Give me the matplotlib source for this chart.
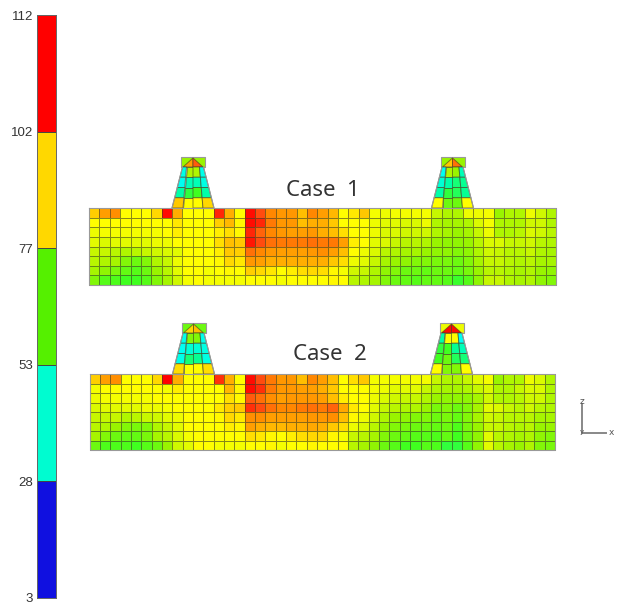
import matplotlib
matplotlib.use("Agg")
import matplotlib.pyplot as plt
import numpy as np
from matplotlib.colors import LinearSegmentedColormap
from matplotlib.patches import Polygon

# scale
levels = [3, 28, 53, 77, 102, 112]
band_colors = ["#1010e0", "#00fcd0", "#55f000", "#ffd800", "#ff0000"]

# one row per element layer, top to bottom
case1 = [
    [86,92,94,80,80,80,85,105,90,80,80,80,103,90,80,105,100,95,93,93,88,95,92,89,80,83,87,79,78,79,79,79,79,74,72,72,78,78,79,70,72,72,78,75,72],
    [80,80,80,80,80,80,80,80,83,80,80,80,86,89,81,105,103,96,93,93,88,90,90,87,80,80,80,78,77,77,76,76,78,72,71,71,72,76,79,72,72,72,75,75,72],
    [78,79,79,79,79,79,79,80,82,80,80,80,82,84,81,103,98,95,93,92,92,93,90,88,84,80,80,78,76,76,75,75,75,72,71,70,71,74,78,72,72,73,76,75,73],
    [77,76,77,77,77,77,78,78,80,80,80,80,84,88,87,104,100,97,96,96,96,97,96,96,92,82,80,77,76,74,73,73,72,70,69,69,70,73,76,76,74,74,75,73,72],
    [74,74,73,72,73,74,75,76,77,80,80,80,82,87,86,97,95,93,92,92,92,93,94,92,88,80,78,76,73,72,71,71,70,69,69,68,69,72,75,74,73,73,74,72,71],
    [73,72,71,68,66,68,72,74,78,80,80,80,81,85,83,93,92,90,90,90,90,90,90,87,84,78,77,74,71,70,69,68,68,67,67,66,68,71,74,74,73,72,73,71,71],
    [71,69,67,65,64,66,70,73,77,80,80,79,80,81,80,86,85,83,80,82,84,85,84,81,79,75,74,72,69,68,66,66,65,66,66,65,67,70,73,73,72,71,72,70,69],
    [68,64,63,62,62,64,68,71,75,79,80,79,79,79,79,80,80,80,79,80,80,80,80,81,80,73,72,71,68,66,65,64,65,65,64,61,64,69,74,74,72,71,72,69,68],
]
case2 = [
    [86,92,94,80,80,80,85,106,90,80,80,80,102,90,80,105,100,96,93,93,88,95,92,88,80,84,87,79,79,79,79,79,79,74,72,72,74,77,79,70,72,72,78,76,72],
    [79,80,80,80,80,80,80,79,82,80,80,80,80,89,81,105,102,96,93,93,92,92,90,87,80,80,80,79,78,77,77,77,74,72,71,71,72,74,76,72,72,74,76,76,72],
    [78,79,79,79,79,79,80,80,80,80,80,80,80,84,81,99,97,94,92,93,93,93,92,88,82,80,80,78,76,75,74,74,72,70,69,69,69,71,75,72,72,73,75,75,72],
    [76,77,77,77,77,78,78,79,80,80,80,80,83,86,87,102,100,97,95,95,96,97,96,98,91,83,80,77,74,73,72,72,70,67,68,66,68,71,77,76,74,73,75,73,72],
    [74,74,74,72,73,74,75,77,78,80,80,80,81,85,83,94,94,92,92,92,92,93,93,94,88,81,78,75,72,70,69,68,68,66,67,65,68,71,75,74,73,73,73,71,71],
    [73,72,70,68,67,68,72,74,77,80,80,80,80,82,81,92,90,89,89,90,90,91,90,87,84,78,76,73,70,68,67,66,66,65,66,63,67,70,74,74,73,72,73,70,70],
    [71,68,66,65,65,67,71,73,76,79,80,80,80,80,80,84,83,81,80,82,84,85,85,81,79,74,73,71,68,66,65,64,64,63,65,62,66,69,77,73,72,71,72,69,68],
    [66,63,63,63,62,64,66,70,75,77,80,80,79,79,79,80,80,81,79,80,80,81,80,80,80,73,71,69,66,64,62,62,64,63,60,60,64,69,77,73,71,70,72,68,67],
]

# tower elements: cap corners, cap triangle halves, then 4 rows of 4 elements
tower1_left = ([70, 72], [92, 99], [[43, 72, 72, 43], [42, 50, 50, 44], [52, 60, 62, 52], [87, 80, 80, 85]])
tower1_right = ([70, 72], [87, 97], [[42, 72, 70, 50], [46, 52, 56, 54], [52, 60, 58, 54], [80, 66, 66, 80]])
tower2_left = ([66, 66], [85, 88], [[43, 68, 68, 43], [42, 46, 46, 44], [43, 56, 54, 44], [84, 80, 80, 84]])
tower2_right = ([78, 78], [105, 105], [[52, 80, 80, 42], [60, 62, 54, 50], [62, 66, 58, 56], [80, 68, 68, 80]])

cmap_values = [3, 28, 40, 53, 62, 70, 75, 80, 85, 90, 95, 100, 106]
cmap_colors = ["#1010e0", "#0040ff", "#00ffff", "#00ffa0", "#40ff20", "#98f400", "#d0f800", "#ffff00",
               "#ffd800", "#ffb000", "#ff8800", "#ff5010", "#ff0000"]
lo, hi = cmap_values[0], cmap_values[-1]
cmap = LinearSegmentedColormap.from_list("fea", [((v - lo) / (hi - lo), c) for v, c in zip(cmap_values, cmap_colors)])
grid_color = (0.25, 0.25, 0.15, 0.62)
outline = "#999999"


def fill(ax, v, pts):
    ax.add_patch(Polygon(pts, closed=True, facecolor=cmap((v - lo) / (hi - lo)), edgecolor=grid_color, linewidth=0.7))


def draw_tower(ax, cx, top, base_y, values):
    cap, tri, rows = values
    hw_top, hw_base = 10.5, 21
    ys = np.linspace(top + 10, base_y, 5)
    # cap
    ax.add_patch(Polygon([(cx - 12, top), (cx + 12, top), (cx + 12, top + 10), (cx - 12, top + 10)], closed=True,
                         facecolor=cmap((cap[0] - lo) / (hi - lo)), edgecolor=outline, linewidth=0.8))
    fill(ax, tri[0], [(cx, top + 1), (cx - 10, top + 10), (cx, top + 10)])
    fill(ax, tri[1], [(cx, top + 1), (cx + 10, top + 10), (cx, top + 10)])
    # columns converge upward
    for i, row in enumerate(rows):
        for j, v in enumerate(row):
            t0 = i / 4
            t1 = (i + 1) / 4
            hw0 = hw_top + (hw_base - hw_top) * t0
            hw1 = hw_top + (hw_base - hw_top) * t1
            inner0 = 6.5 + (10 - 6.5) * t0
            inner1 = 6.5 + (10 - 6.5) * t1
            e0 = [-hw0, -inner0, 0, inner0, hw0]
            e1 = [-hw1, -inner1, 0, inner1, hw1]
            fill(ax, v, [(cx + e0[j], ys[i]), (cx + e0[j + 1], ys[i]), (cx + e1[j + 1], ys[i + 1]), (cx + e1[j], ys[i + 1])])
    ax.plot([cx - hw_top, cx - hw_base], [ys[0], ys[-1]], color=outline, lw=0.8)
    ax.plot([cx + hw_top, cx + hw_base], [ys[0], ys[-1]], color=outline, lw=0.8)


def draw_case(ax, values, x0, x1, y0, y1):
    vals = np.array(values)
    xe = np.linspace(x0, x1, vals.shape[1] + 1)
    ye = np.linspace(y0, y1, vals.shape[0] + 1)
    ax.pcolormesh(xe, ye, vals, cmap=cmap, vmin=lo, vmax=hi, edgecolors=[grid_color], linewidth=0.65)
    ax.plot([x0, x1, x1, x0, x0], [y0, y0, y1, y1, y0], color=outline, lw=0.8)


fig = plt.figure(figsize=(6.19, 6.06), dpi=100)
ax = fig.add_axes([0, 0, 1, 1])
ax.set_xlim(0, 619)
ax.set_ylim(606, 0)
ax.axis("off")

draw_case(ax, case1, 89, 556, 208, 285)
draw_case(ax, case2, 89.5, 555, 374, 450)
draw_tower(ax, 193, 157, 208, tower1_left)
draw_tower(ax, 452.5, 157, 208, tower1_right)
draw_tower(ax, 193.5, 323, 374, tower2_left)
draw_tower(ax, 451.5, 323, 374, tower2_right)

ax.text(323, 191, "Case  1", fontsize=16, family="Noto Sans", color="#333333", ha="center", va="center")
ax.text(329.5, 355, "Case  2", fontsize=16, family="Noto Sans", color="#333333", ha="center", va="center")

# little axis triad
ax.plot([582, 582], [404, 433], color="#888888", lw=1.4)
ax.plot([582, 606], [433, 433], color="#888888", lw=1.4)
ax.text(582, 402, "z", fontsize=6.5, color="#555555", ha="center", va="center")
ax.text(611, 432.5, "x", fontsize=6.5, color="#555555", ha="center", va="center")
ax.text(582, 432, "y", fontsize=5, color="#555555", ha="center", va="center")

# colour scale, bands evenly spaced
cax = fig.add_axes([37 / 619, 1 - 598 / 606, 19 / 619, (598 - 15) / 606])
band_edges = np.arange(len(levels))
for i, c in enumerate(band_colors):
    cax.axhspan(band_edges[i], band_edges[i + 1], color=c, lw=0)
cax.set_ylim(band_edges[0], band_edges[-1])
cax.set_xticks([])
cax.set_yticks(band_edges)
cax.set_yticklabels([str(v) for v in levels], fontsize=9.5, family="Liberation Sans", color="#333333")
cax.tick_params(axis="y", length=0, pad=3)
for s in cax.spines.values():
    s.set_color("#666666")
    s.set_linewidth(0.7)
for y in band_edges:
    cax.axhline(y, color="#444444", lw=0.7)

fig.savefig("out.png", dpi=100)
